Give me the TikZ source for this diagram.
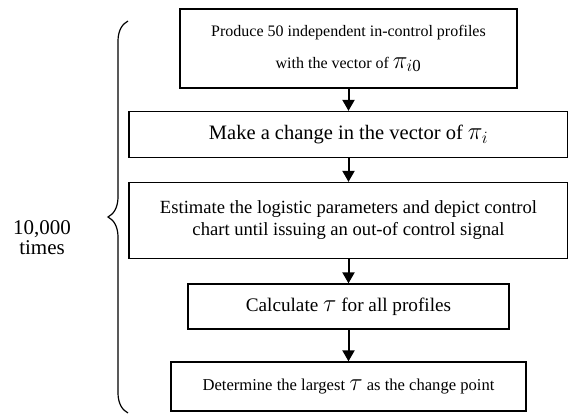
\documentclass[tikz,border=0pt]{standalone}
\usepackage{amsmath}
\usepackage{fontspec}
\setmainfont{Liberation Serif}
\usepackage{tikz}
\usetikzlibrary{
    arrows.meta,
    positioning,
    decorations.pathreplacing
}
\newcommand{\bigsym}[2]{{\fontsize{#1}{#1}\selectfont$#2$}}

\begin{document}
\begin{tikzpicture}[x=1pt, y=1pt, node distance=86pt, auto, line width=1.3pt,
        box/.style={draw, rectangle, inner sep=0pt, align=center},
        flow/.style={-{Triangle[width=12pt,length=11pt]}, line width=2pt}]
            \useasboundingbox (0,0) rectangle (568,-414);
            \node[box, minimum width=337pt, minimum height=79pt,
                font=\fontsize{16}{32}\selectfont] (A) at (348.5,-48.5)
                {Produce 50 independent in-control profiles\\with the vector of \bigsym{24}{\pi_{i\text{0}}}};
            \node[box, minimum width=439pt, minimum height=46pt,
                font=\fontsize{20.5}{24}\selectfont] (B) [below of=A]
                {Make a change in the vector of \bigsym{26}{\pi_i}};
            \node[box, minimum width=439pt, minimum height=76pt,
                font=\fontsize{18.6}{22}\selectfont] (C) [below of=B]
                {Estimate the logistic parameters and depict control\\chart until issuing an out-of control signal};
            \node[box, minimum width=321pt, minimum height=45pt,
                font=\fontsize{19.2}{22}\selectfont] (D) [below of=C]
                {Calculate \bigsym{27}{\tau} for all profiles};
            \node[box, minimum width=355pt, minimum height=49pt,
                font=\fontsize{16.6}{20}\selectfont] (E) [below of=D, node distance=80pt]
                {Determine the largest \bigsym{26}{\tau} as the change point};
            \draw[flow] (A) to (B);
            \draw[flow] (B) to (C);
            \draw[flow] (C) to (D);
            \draw[flow] (D) to (E);
            % loop brace
            \coordinate (bot) at (128,-413);
            \coordinate (top) at (128,-21);
            \draw[decorate, decoration={brace, amplitude=20pt}, line width=1.2pt] (bot) -- (top);
            \node[align=center, font=\fontsize{21}{20}\selectfont] (N) at (42,-238) {10,000\\times};
        \end{tikzpicture}
\end{document}
